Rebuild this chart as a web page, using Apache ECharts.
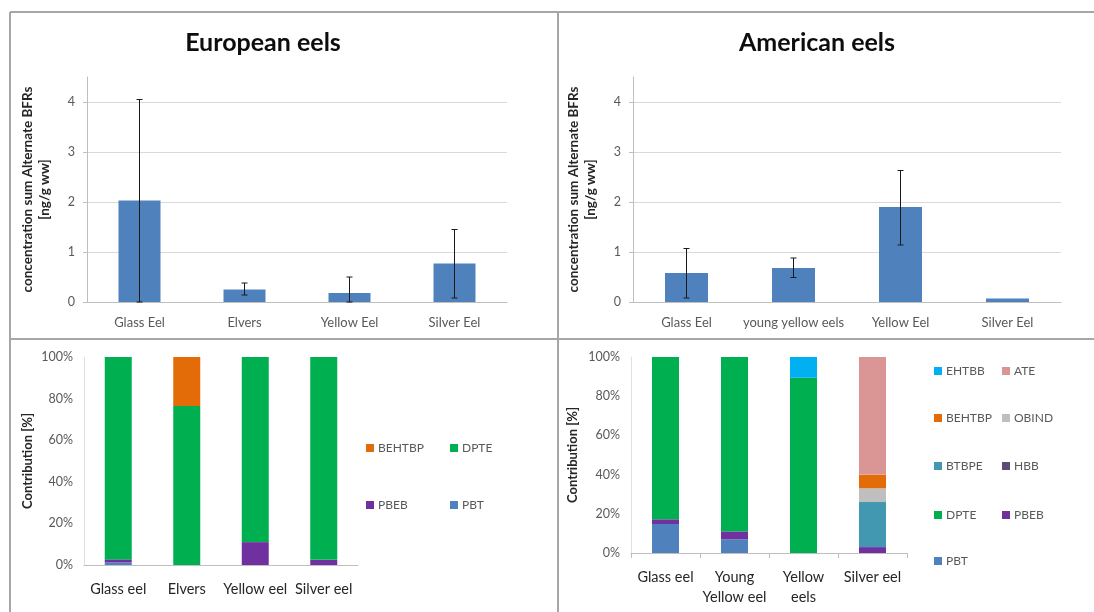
<!DOCTYPE html>
<html>
<head>
<meta charset="utf-8">
<title>Alternate BFRs in European and American eels</title>
<script src="https://cdn.jsdelivr.net/npm/echarts@6/dist/echarts.min.js"></script>
<style>
  html, body { margin: 0; padding: 0; background: #ffffff; }
  #chart { width: 1094px; height: 612px; }
</style>
</head>
<body>
<div id="chart"></div>
<script>
// ---- Concentrations (ng/g ww), mean with error range ----
const euCategories = ['Glass Eel', 'Elvers', 'Yellow Eel', 'Silver Eel'];
const euMean = [2.03, 0.25, 0.18, 0.77];
const euErrLow = [0, 0.14, 0, 0.08];
const euErrHigh = [4.05, 0.38, 0.50, 1.45];

const amCategories = ['Glass Eel', 'young yellow eels', 'Yellow Eel', 'Silver Eel'];
const amMean = [0.58, 0.68, 1.90, 0.07];
const amErrLow = [0.08, 0.49, 1.14, null];
const amErrHigh = [1.07, 0.88, 2.63, null];

const concTicks = [0, 1, 2, 3, 4];

// ---- Contribution of each compound (%) ----
const euStageLabels = ['Glass eel', 'Elvers', 'Yellow eel', 'Silver eel'];
const euPBT = [1.2, 0, 0, 0];
const euPBEB = [1.5, 0, 11, 2.5];
const euDPTE = [97.3, 76.5, 89, 97.5];
const euBEHTBP = [0, 23.5, 0, 0];

const amStageLabels = ['Glass eel', 'Young\nYellow eel', 'Yellow\neels', 'Silver eel'];
const amPBT = [14.8, 7, 0, 0];
const amPBEB = [2.4, 4, 0, 3];
const amDPTE = [82.8, 89, 89.4, 0];
const amHBB = [0, 0, 0, 0];
const amBTBPE = [0, 0, 0, 23];
const amOBIND = [0, 0, 0, 7];
const amBEHTBP = [0, 0, 0, 7];
const amATE = [0, 0, 0, 60];
const amEHTBB = [0, 0, 10.6, 0];

const pctTicks = [0, 20, 40, 60, 80, 100];

// ---- styling ----
const FONT = 'Lato, "Open Sans", sans-serif';
const BAR_BLUE = '#4F81BD';
const compoundColors = {
  PBT: '#4F81BD', PBEB: '#7030A0', DPTE: '#00B050', HBB: '#604A7B',
  BTBPE: '#4198B0', OBIND: '#BFBFBF', BEHTBP: '#E36C09', ATE: '#D99694', EHTBB: '#00B0F0'
};
const GRAY_TEXT = '#595959';
const DARK_TEXT = '#262626';

const chart = echarts.init(document.getElementById('chart'), null, { renderer: 'canvas' });

const grids = [
  { left: 87, top: 77, width: 420, height: 225 },   // European concentration
  { left: 633, top: 77, width: 428, height: 225 },  // American concentration
  { left: 84, top: 357, width: 274, height: 208 },  // European contribution
  { left: 631, top: 357, width: 276, height: 196 }  // American contribution
];

function concXAxis(gridIndex, cats) {
  return {
    type: 'category', gridIndex, data: cats,
    axisLine: { lineStyle: { color: '#bfbfbf', width: 1 } },
    axisTick: { show: false },
    axisLabel: { color: GRAY_TEXT, fontFamily: FONT, fontSize: 13, margin: 14, interval: 0 }
  };
}
function concYAxis(gridIndex, nameGap) {
  return {
    type: 'value', gridIndex, min: 0, max: 4.5, interval: 1,
    name: 'concentration sum Alternate BFRs\n[ng/g ww]',
    nameLocation: 'middle', nameRotate: 90, nameGap,
    nameTextStyle: { fontFamily: FONT, fontSize: 13.5, fontWeight: 'bold', color: DARK_TEXT, lineHeight: 17 },
    axisLine: { show: true, lineStyle: { color: '#bfbfbf' } },
    axisTick: { show: true, length: 4, lineStyle: { color: '#bfbfbf' } },
    axisLabel: {
      color: GRAY_TEXT, fontFamily: FONT, fontSize: 12.5, margin: 12, showMaxLabel: false,
      formatter: v => (concTicks.indexOf(v) >= 0 ? String(v) : '')
    },
    splitLine: { show: true, showMaxLine: false, lineStyle: { color: '#d9d9d9', width: 1 } }
  };
}
function pctXAxis(gridIndex, cats, ticks) {
  return {
    type: 'category', gridIndex, data: cats,
    axisLine: { lineStyle: { color: '#bfbfbf', width: 1 } },
    axisTick: { show: ticks, length: 5, lineStyle: { color: '#bfbfbf' } },
    axisLabel: { color: DARK_TEXT, fontFamily: FONT, fontSize: 14.5, margin: 14, interval: 0, lineHeight: 20 }
  };
}
function pctYAxis(gridIndex, nameGap) {
  return {
    type: 'value', gridIndex, min: 0, max: 100, interval: 20,
    name: 'Contribution [%]', nameLocation: 'middle', nameRotate: 90, nameGap,
    nameTextStyle: { fontFamily: FONT, fontSize: 13, fontWeight: 'bold', color: DARK_TEXT },
    axisLine: { show: true, lineStyle: { color: '#e0e0e0' } },
    axisTick: { show: false },
    axisLabel: {
      color: GRAY_TEXT, fontFamily: FONT, fontSize: 12.5, margin: 11,
      formatter: v => (pctTicks.indexOf(v) >= 0 ? v + '%' : '')
    },
    splitLine: { show: false }
  };
}

// error bar drawn through the axis scales: [categoryIndex, low, high]
function errorBarItem(params, api) {
  const x = api.value(0);
  const lowPt = api.coord([x, api.value(1)]);
  const highPt = api.coord([x, api.value(2)]);
  const cap = 3;
  const style = { stroke: '#1a1a1a', lineWidth: 1 };
  return {
    type: 'group',
    children: [
      { type: 'line', shape: { x1: highPt[0], y1: highPt[1], x2: lowPt[0], y2: lowPt[1] }, style },
      { type: 'line', shape: { x1: highPt[0] - cap, y1: highPt[1], x2: highPt[0] + cap, y2: highPt[1] }, style },
      { type: 'line', shape: { x1: lowPt[0] - cap, y1: lowPt[1], x2: lowPt[0] + cap, y2: lowPt[1] }, style }
    ]
  };
}
function errorData(low, high) {
  const out = [];
  low.forEach((l, i) => { if (l !== null && high[i] !== null) out.push([i, l, high[i]]); });
  return out;
}

function stackSeries(name, data, axisIndex, stack) {
  return {
    name, type: 'bar', stack, data,
    xAxisIndex: axisIndex, yAxisIndex: axisIndex,
    barWidth: 27,
    itemStyle: { color: compoundColors[name] },
    emphasis: { disabled: true }
  };
}

const series = [
  { type: 'bar', name: 'EU conc', data: euMean, xAxisIndex: 0, yAxisIndex: 0, barWidth: 42,
    itemStyle: { color: BAR_BLUE }, emphasis: { disabled: true } },
  { type: 'custom', name: 'EU err', data: errorData(euErrLow, euErrHigh), xAxisIndex: 0, yAxisIndex: 0,
    renderItem: errorBarItem, z: 5 },
  { type: 'bar', name: 'AM conc', data: amMean, xAxisIndex: 1, yAxisIndex: 1, barWidth: 43,
    itemStyle: { color: BAR_BLUE }, emphasis: { disabled: true } },
  { type: 'custom', name: 'AM err', data: errorData(amErrLow, amErrHigh), xAxisIndex: 1, yAxisIndex: 1,
    renderItem: errorBarItem, z: 5 },

  stackSeries('PBT', euPBT, 2, 'eu'),
  stackSeries('PBEB', euPBEB, 2, 'eu'),
  stackSeries('DPTE', euDPTE, 2, 'eu'),
  stackSeries('BEHTBP', euBEHTBP, 2, 'eu'),

  stackSeries('PBT', amPBT, 3, 'am'),
  stackSeries('PBEB', amPBEB, 3, 'am'),
  stackSeries('DPTE', amDPTE, 3, 'am'),
  stackSeries('HBB', amHBB, 3, 'am'),
  stackSeries('BTBPE', amBTBPE, 3, 'am'),
  stackSeries('OBIND', amOBIND, 3, 'am'),
  stackSeries('BEHTBP', amBEHTBP, 3, 'am'),
  stackSeries('ATE', amATE, 3, 'am'),
  stackSeries('EHTBB', amEHTBB, 3, 'am')
];

// one legend entry per component so the two-column layouts line up
function legendEntry(name, left, centerY) {
  return {
    data: [name], left, top: centerY - 8, padding: 0,
    icon: 'rect', itemWidth: 8, itemHeight: 8, itemGap: 0,
    selectedMode: false,
    textStyle: { color: GRAY_TEXT, fontFamily: FONT, fontSize: 12, padding: [0, 0, 0, -1] }
  };
}
const legends = [
  legendEntry('BEHTBP', 366, 450), legendEntry('DPTE', 450, 450),
  legendEntry('PBEB', 366, 507), legendEntry('PBT', 450, 507),

  legendEntry('EHTBB', 934, 373), legendEntry('ATE', 1002, 373),
  legendEntry('BEHTBP', 934, 420), legendEntry('OBIND', 1002, 420),
  legendEntry('BTBPE', 934, 468), legendEntry('HBB', 1002, 468),
  legendEntry('DPTE', 934, 517), legendEntry('PBEB', 1002, 517),
  legendEntry('PBT', 934, 563)
];

// panel frame and titles
const frameStyle = { stroke: '#a6a6a6', lineWidth: 2 };
const graphics = [
  { type: 'line', shape: { x1: 10, y1: 12, x2: 1094, y2: 12 }, style: frameStyle },
  { type: 'line', shape: { x1: 10, y1: 12, x2: 10, y2: 612 }, style: frameStyle },
  { type: 'line', shape: { x1: 10, y1: 339, x2: 1094, y2: 339 }, style: frameStyle },
  { type: 'line', shape: { x1: 558, y1: 12, x2: 558, y2: 612 }, style: frameStyle },
  { type: 'text', x: 263, y: 43, style: { text: 'European eels', fontFamily: FONT, fontSize: 25,
    fontWeight: 'bold', fill: '#0d0d0d', align: 'center', verticalAlign: 'middle' } },
  { type: 'text', x: 817, y: 43, style: { text: 'American eels', fontFamily: FONT, fontSize: 25,
    fontWeight: 'bold', fill: '#0d0d0d', align: 'center', verticalAlign: 'middle' } }
];

chart.setOption({
  animation: false,
  backgroundColor: '#ffffff',
  grid: grids,
  xAxis: [
    concXAxis(0, euCategories),
    concXAxis(1, amCategories),
    pctXAxis(2, euStageLabels, false),
    pctXAxis(3, amStageLabels, true)
  ],
  yAxis: [
    concYAxis(0, 34),
    concYAxis(1, 34),
    pctYAxis(2, 50),
    pctYAxis(3, 52)
  ],
  legend: legends,
  graphic: graphics,
  series
});
</script>
</body>
</html>
